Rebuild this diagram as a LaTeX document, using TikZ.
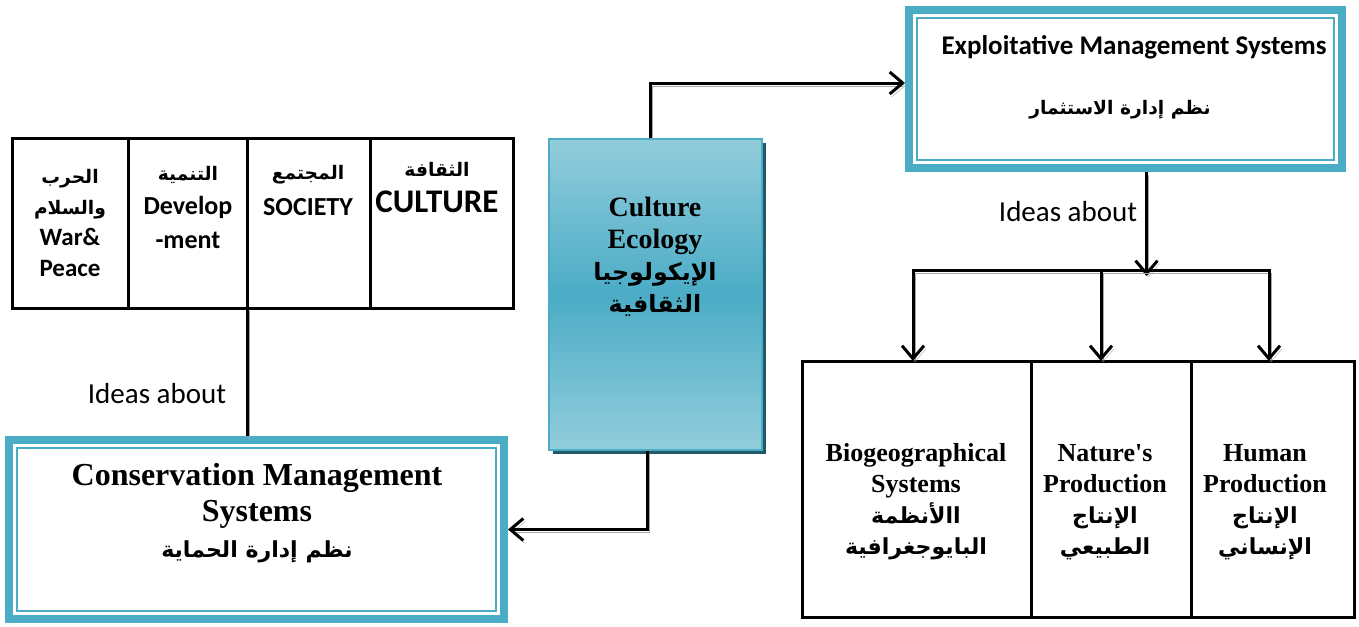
\documentclass[tikz,border=0pt]{standalone}
\usepackage{fontspec}
\setmainfont{Liberation Serif}
\newfontfamily\calibri{Carlito}
\newfontfamily\arabicfont[Script=Arabic,Scale=0.85]{DejaVu Sans}
\TeXXeTstate=1
\usetikzlibrary{arrows.meta,shadows}
\definecolor{teal5}{HTML}{4BACC6}
\definecolor{tealhi}{HTML}{92CDDC}
\definecolor{tealdk}{HTML}{215968}
\newcommand{\artext}[1]{{\arabicfont\bfseries\beginR #1\endR}}

\begin{document}
\begin{tikzpicture}[x=1pt,y=-1pt]
\tikzstyle{cell}=[draw=black,line width=3pt,inner sep=0pt,outer sep=0pt]
\tikzstyle{tealbox}=[draw=teal5,line width=8pt,inner sep=0pt,outer sep=4pt]
\tikzstyle{ecobox}=[draw=teal5,line width=1.5pt,top color=tealhi,bottom color=tealhi,middle color=teal5,minimum width=213pt,minimum height=311pt,drop shadow={shadow xshift=4pt,shadow yshift=-4pt,fill=tealdk,opacity=1}]
\tikzstyle{sanstxt}=[align=center,inner sep=0pt,font=\calibri\bfseries\fontsize{22}{32}\selectfont]
\tikzstyle{seriftxt}=[align=center,inner sep=0pt,font=\bfseries\fontsize{26}{31}\selectfont]
\tikzstyle{idea}=[inner sep=0pt,font=\calibri\fontsize{29}{32}\selectfont]
\tikzstyle{link}=[line width=3pt,draw=black,preaction={draw=black!35,transform canvas={shift={(2pt,-3pt)}}}]
\tikzstyle{arrowlink}=[link,-{Straight Barb[length=13pt,width=22pt]}]
\useasboundingbox (0,0) rectangle (1359,626);
% left table
\node[cell,minimum width=116pt,minimum height=170pt] (war) at (70,223) {};
\node[cell,minimum width=119pt,minimum height=170pt] (dev) at (187.5,223) {};
\node[cell,minimum width=123pt,minimum height=170pt] (soc) at (308.5,223) {};
\node[cell,minimum width=143pt,minimum height=170pt] (cul) at (441.5,223) {};
\node[sanstxt,font=\calibri\bfseries\fontsize{25}{31}\selectfont] (wartxt) at (70,223) {\artext{\fontsize{22}{31}\selectfont الحرب}\\\artext{\fontsize{22}{31}\selectfont والسلام}\\War\&\\Peace};
\node[sanstxt,font=\calibri\bfseries\fontsize{26}{34}\selectfont] (devtxt) at (188,207) {\artext{\fontsize{22}{34}\selectfont التنمية}\\Develop\\-ment};
\node[sanstxt,font=\calibri\bfseries\fontsize{26}{36}\selectfont] (soctxt) at (308,190) {\artext{\fontsize{22}{36}\selectfont المجتمع}\\SOCIETY};
\node[sanstxt,font=\calibri\bfseries\fontsize{33}{36}\selectfont] (cultxt) at (437,188) {\artext{\fontsize{22}{36}\selectfont الثقافة}\\CULTURE};
% culture ecology
\node[ecobox] (eco) at (655.5,294.5) {};
\node[seriftxt,font=\bfseries\fontsize{28}{32}\selectfont] (ecotxt) at (655,257) {Culture\\Ecology\\\artext{الإيكولوجيا}\\\artext{الثقافية}};
% conservation
\node[tealbox,minimum width=495pt,minimum height=179pt] (cons) at (256.5,529.5) {};
\draw[teal5,line width=1.5pt] ([shift={(12pt,-12pt)}]cons.north west) rectangle ([shift={(-12pt,12pt)}]cons.south east);
\node[seriftxt,font=\bfseries\fontsize{32}{36}\selectfont] (constxt) at (257,513) {Conservation Management\\Systems\\\artext{\fontsize{26}{36}\selectfont نظم إدارة الحماية}};
% exploitative
\node[tealbox,minimum width=433pt,minimum height=158pt] (ex) at (1125.5,89) {};
\draw[teal5,line width=1.5pt] ([shift={(12pt,-12pt)}]ex.north west) rectangle ([shift={(-12pt,12pt)}]ex.south east);
\node[sanstxt,font=\calibri\bfseries\fontsize{27}{30}\selectfont] (extxt) at (1134,47) {Exploitative Management Systems};
\node[sanstxt] (exar) at (1120,110) {\artext{نظم إدارة الاستثمار}};
% right table
\node[cell,minimum width=229pt,minimum height=256pt] (bio) at (916.5,489) {};
\node[cell,minimum width=160pt,minimum height=256pt] (nat) at (1111,489) {};
\node[cell,minimum width=163pt,minimum height=256pt] (hum) at (1272.5,489) {};
\node[seriftxt] (biotxt) at (916,502) {Biogeographical\\Systems\\\artext{االأنظمة}\\\artext{البايوجغرافية}};
\node[seriftxt] (nattxt) at (1105,502) {Nature\textquotesingle s\\Production\\\artext{الإنتاج}\\\artext{الطبيعي}};
\node[seriftxt] (humtxt) at (1265,502) {Human\\Production\\\artext{الإنتاج}\\\artext{الإنساني}};
% labels
\node[idea] (idea1) at (157,394) {Ideas about};
\node[idea] (idea2) at (1068,212) {Ideas about};
% connectors
\coordinate (split) at (1101,270);
\draw[link] (dev.south east) -- (dev.south east |- cons.north);
\draw[arrowlink] ([xshift=-5pt]eco.north) |- ([yshift=6pt]ex.west);
\draw[arrowlink] ([xshift=-8pt]eco.south) |- (cons.east);
\draw[arrowlink] ([xshift=21pt]ex.south) -- ++(0,104);
\draw[arrowlink] (split) -| ([xshift=-3.5pt]bio.north);
\draw[arrowlink] (split) -| ([xshift=-3.5pt]hum.north);
\draw[arrowlink] (split) -- ([xshift=-10pt]nat.north);
\end{tikzpicture}
\end{document}
